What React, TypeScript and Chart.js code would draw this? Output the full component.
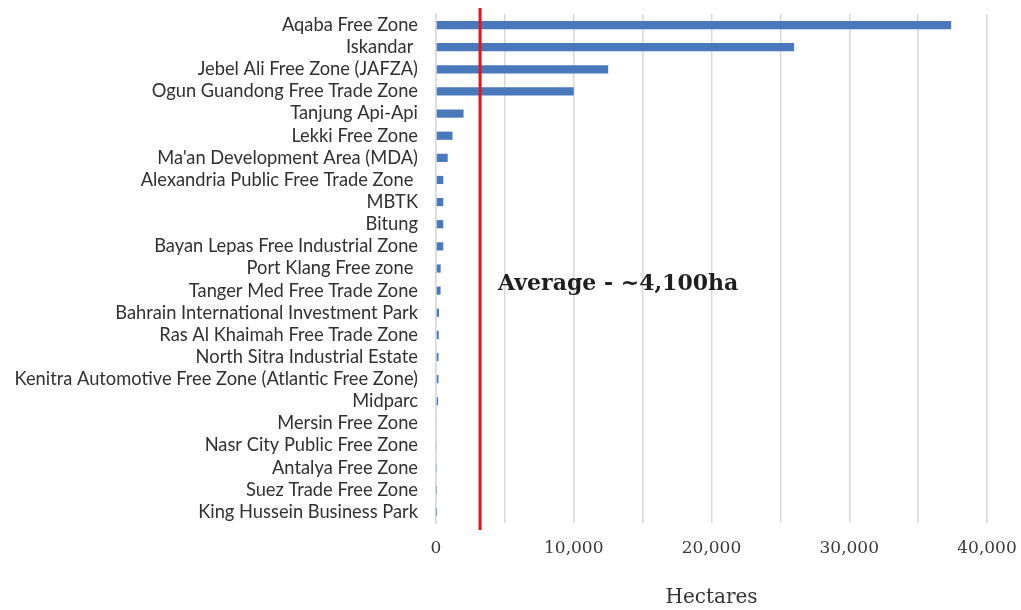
import React, { useEffect, useRef } from "react";
import { Chart, registerables } from "chart.js";

Chart.register(...registerables);

const categories: string[] = [
  "Aqaba Free Zone",
  "Iskandar ",
  "Jebel Ali Free Zone (JAFZA)",
  "Ogun Guandong Free Trade Zone",
  "Tanjung Api-Api",
  "Lekki Free Zone",
  "Ma'an Development Area (MDA)",
  "Alexandria Public Free Trade Zone ",
  "MBTK",
  "Bitung",
  "Bayan Lepas Free Industrial Zone",
  "Port Klang Free zone ",
  "Tanger Med Free Trade Zone",
  "Bahrain International Investment Park",
  "Ras Al Khaimah Free Trade Zone",
  "North Sitra Industrial Estate",
  "Kenitra Automotive Free Zone (Atlantic Free Zone)",
  "Midparc",
  "Mersin Free Zone",
  "Nasr City Public Free Zone",
  "Antalya Free Zone",
  "Suez Trade Free Zone",
  "King Hussein Business Park",
];

const hectares: number[] = [
  37400, 26000, 12500, 10000, 2000, 1200, 850, 530, 530, 530, 530, 340, 330,
  220, 200, 180, 180, 150, 50, 40, 30, 20, 10,
];

const xTickValues: number[] = [0, 10000, 20000, 30000, 40000];
const xMax = 40000;
const xStep = 5000;
const averageValue = 3200;
const averageLabel = "Average - ~4,100ha";
const axisTitle = "Hectares";

const zeroPad = (s: any) => {
  s.paddingTop = 0;
  s.paddingBottom = 0;
  s.paddingLeft = 0;
  s.paddingRight = 0;
};

export default function App() {
  const ref = useRef<HTMLCanvasElement | null>(null);

  useEffect(() => {
    if (!ref.current) return;
    const avgPlugin = {
      id: "avgLine",
      afterDatasetsDraw(chart: any) {
        const { ctx, chartArea, scales } = chart;
        const x = scales.x.getPixelForValue(averageValue);
        const y = scales.y;
        ctx.save();
        ctx.strokeStyle = "#e3131b";
        ctx.lineWidth = 3;
        ctx.beginPath();
        ctx.moveTo(x, chartArea.top - 6);
        ctx.lineTo(x, chartArea.bottom + 7);
        ctx.stroke();
        ctx.fillStyle = "#1e1e1e";
        ctx.font = "bold 22px 'DejaVu Serif'";
        ctx.textAlign = "left";
        ctx.textBaseline = "middle";
        const ty = (y.getPixelForValue(11) + y.getPixelForValue(12)) / 2 + 5;
        ctx.fillText(averageLabel, x + 18, ty);
        ctx.restore();
      },
    };
    const chart = new Chart(ref.current, {
      type: "bar",
      data: {
        labels: categories,
        datasets: [
          {
            data: hectares,
            backgroundColor: "#4a79bb",
            barPercentage: 0.37,
            categoryPercentage: 1,
          },
        ],
      },
      options: {
        indexAxis: "y",
        animation: false,
        responsive: false,
        maintainAspectRatio: false,
        layout: { padding: { top: 14, right: 34, bottom: 0, left: 0 } },
        plugins: { legend: { display: false }, tooltip: { enabled: false } },
        scales: {
          x: {
            min: 0,
            max: xMax,
            afterFit: (s: any) => {
              s.height = 87;
              zeroPad(s);
            },
            afterBuildTicks: (s: any) => {
              const t = [];
              for (let v = 0; v <= xMax; v += xStep) t.push({ value: v });
              s.ticks = t;
            },
            ticks: {
              padding: 15,
              color: "#3a3a3a",
              font: { family: "'DejaVu Serif'", size: 17 },
              maxRotation: 0,
              callback: (v: any) =>
                xTickValues.includes(Number(v))
                  ? Number(v).toLocaleString("en-US")
                  : "",
            },
            grid: { color: "#d9d9d9", lineWidth: 1.5, drawTicks: false },
            border: { display: false },
            title: {
              display: true,
              text: axisTitle,
              color: "#333333",
              font: { family: "'DejaVu Serif'", size: 20 },
              padding: { top: 0, bottom: 0 },
            },
          },
          y: {
            afterFit: (s: any) => {
              s.width = 436;
              zeroPad(s);
            },
            ticks: {
              autoSkip: false,
              padding: 18,
              color: "#303030",
              font: { family: "Lato", size: 18.3 },
            },
            grid: { display: false, drawTicks: false },
            border: { display: true, color: "#d9d9d9", width: 1.5 },
          },
        },
      },
      plugins: [avgPlugin],
    });
    return () => chart.destroy();
  }, []);

  return (
    <div style={{ position: "fixed", left: 0, top: 0, width: 1021, height: 610, background: "#fff" }}>
      <canvas ref={ref} width={1021} height={610} style={{ width: 1021, height: 610 }} />
    </div>
  );
}
